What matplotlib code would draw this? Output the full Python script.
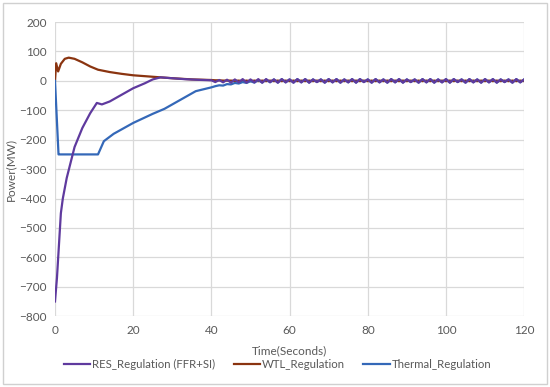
import numpy as np
import matplotlib
matplotlib.use("Agg")
import matplotlib.pyplot as plt
from matplotlib.patches import Rectangle

plt.rcParams['font.family'] = ['Lato', 'DejaVu Sans']

# ---------------------------------------------------------------- data
# early transient
res_t = [0, 0.5, 1.5, 2, 3, 5, 7, 9, 10.7, 12, 14, 16, 18, 20, 23, 25, 27, 30, 33, 36, 40]
res_p = [-750, -670, -450, -400, -330, -225, -160, -110, -75, -80, -70, -55, -40, -25, -8, 5, 12, 9, 6, 4, 2]

wtl_t = [0, 0.3, 0.8, 1.5, 2.5, 3.5, 5, 7, 9, 11, 14, 17, 20, 25, 30, 35, 40]
wtl_p = [0, 60, 32, 58, 75, 79, 75, 63, 49, 38, 30, 24, 19, 14, 9, 5, 3]

thermal_t = [0, 0.9, 1.2, 11, 12.5, 15, 20, 25, 28, 32, 36, 40]
thermal_p = [0, -250, -250, -250, -205, -180, -143, -112, -95, -65, -35, -22]

# settling oscillation, t = 41 .. 120 s
tail_t = list(range(41, 121))
res_tail = [-4, 3, -5, 4, -6, 5, -5, 6, -6, 5, -5, 6, -6, 6, -4, 5, -6, 6, -5, 5,
            -6, 6, -5, 6, -6, 5, -4, 5, -6, 6, -5, 6, -6, 5, -5, 6, -6, 6, -4, 5,
            -6, 6, -5, 5, -6, 6, -5, 6, -6, 5, -4, 5, -6, 6, -5, 6, -6, 5, -5, 6,
            -6, 6, -4, 5, -6, 6, -5, 5, -6, 6, -5, 6, -6, 5, -4, 5, -6, 6, -5, 5]
thermal_tail = [-18, -15, -16, -11, -12, -7, -9, -4, -7, -1, -6, 3, -6, 5, -5, 5, -6, 6, -5, 5,
                -6, 6, -5, 6, -6, 5, -4, 5, -6, 6, -5, 6, -6, 5, -5, 6, -6, 6, -4, 5,
                -6, 6, -5, 5, -6, 6, -5, 6, -6, 5, -4, 5, -6, 6, -5, 6, -6, 5, -5, 6,
                -6, 6, -4, 5, -6, 6, -5, 5, -6, 6, -5, 6, -6, 5, -4, 5, -6, 6, -5, 5]
wtl_tail = [2, 2, 1, 1, 1, 0, 1, -1, 1, -1, 1, -1, 1, -1, 1, -1, 1, -1, 1, -1,
            1, -1, 1, -1, 1, -1, 1, -1, 1, -1, 1, -1, 1, -1, 1, -1, 1, -1, 1, -1,
            1, -1, 1, -1, 1, -1, 1, -1, 1, -1, 1, -1, 1, -1, 1, -1, 1, -1, 1, -1,
            1, -1, 1, -1, 1, -1, 1, -1, 1, -1, 1, -1, 1, -1, 1, -1, 1, -1, 1, -1]

labels = ['RES_Regulation (FFR+SI)', 'WTL_Regulation', 'Thermal_Regulation']
colors = ['#5F3A9E', '#8A3410', '#3468B8']

# ---------------------------------------------------------------- plot
fig = plt.figure(figsize=(5.5, 3.87), dpi=100)
ax = fig.add_axes([0.1, 0.183, 0.853, 0.76])

fig.patches.append(Rectangle((0.006, 0.008), 0.988, 0.984, transform=fig.transFigure,
                             fill=False, edgecolor='#D0D0D0', linewidth=1.0))

l_res, = ax.plot(res_t + tail_t, res_p + res_tail, color=colors[0], lw=1.6, zorder=4)
l_wtl, = ax.plot(wtl_t + tail_t, wtl_p + wtl_tail, color=colors[1], lw=1.6, zorder=2)
l_th, = ax.plot(thermal_t + tail_t, thermal_p + thermal_tail, color=colors[2], lw=1.6, zorder=3)

ax.set_xlim(0, 120)
ax.set_ylim(-800, 200)
ax.set_xticks(np.arange(0, 121, 20))
ax.set_yticks(np.arange(-800, 201, 100))
ax.grid(True, color='#D9D9D9', linewidth=0.9)
ax.set_axisbelow(True)
for s in ax.spines.values():
    s.set_visible(False)
ax.tick_params(length=0, labelsize=8.5, colors='#595959', pad=6)

ax.set_xlabel('Time(Seconds)', fontsize=8.5, color='#595959', labelpad=7)
ax.set_ylabel('Power(MW)', fontsize=8.5, color='#595959', labelpad=2)

fig.legend([l_res, l_wtl, l_th], labels, loc='center', ncol=3, frameon=False,
           bbox_to_anchor=(0.505, 0.058), fontsize=8.2, labelcolor='#595959',
           handlelength=2.3, handletextpad=0.2, columnspacing=1.6)

fig.savefig('out.png', dpi=100)
